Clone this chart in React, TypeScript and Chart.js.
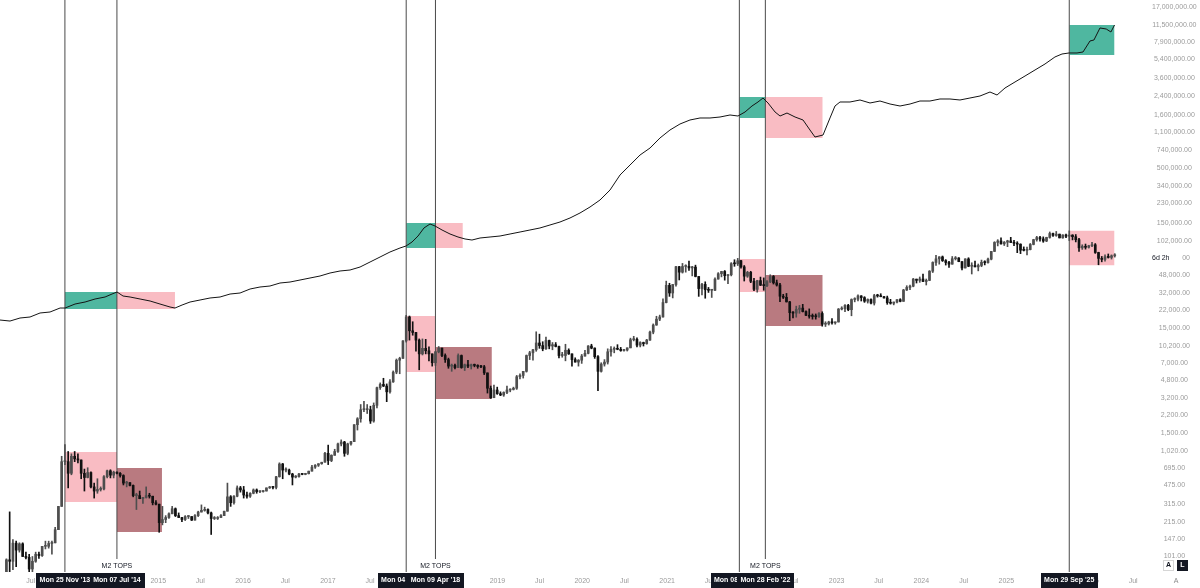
import React, { useEffect, useRef } from 'react';
import { Chart, registerables } from 'chart.js';

Chart.register(...registerables);

const FONT = '"Liberation Sans", Arial, sans-serif';

// ---------- axes ----------
const X_MIN = 2013.134;
const X_MAX = 2026.578;
const Y_MIN = 71.17;
const Y_MAX = 19930000;
const yTicks = [101, 147, 215, 315, 475, 695, 1020, 1500, 2200, 3200, 4800, 7000, 10200, 15000, 22000, 32000, 48000, 70000, 102000, 150000, 230000, 340000, 500000, 740000, 1100000, 1600000, 2400000, 3600000, 5400000, 7900000, 11500000, 17000000];
const xTickYears = [2013, 2014, 2015, 2016, 2017, 2018, 2019, 2020, 2021, 2022, 2023, 2024, 2025, 2026];

// ---------- BTC 2-week candles: [high, low, close], open = previous close ----------
const CANDLE_START = '2013-03-04';
const btcFirstOpen = 34;
const btc2013 = [[48,33,47],[95,46,93],[266,50,90],[145,75,134],[140,80,115],[135,110,132],[135,100,100],[110,95,98],[105,65,76],[100,68,90],[110,88,105],[110,96,102],[125,100,125],[140,118,125],[140,120,133],[140,105,135],[190,135,180],[300,180,300],[900,300,800],[1163,750,800],[1000,450,620],[950,600,900]];
const btc2014 = [[1000,800,850],[950,780,830],[830,550,620],[680,420,565],[700,560,630],[640,450,460],[500,360,420],[550,400,435],[460,420,440],[590,430,575],[665,560,655],[670,560,595],[650,560,635],[640,610,620],[630,570,590],[600,480,500],[520,460,505],[500,470,475],[480,370,380],[400,280,380],[420,360,355],[365,320,365],[460,360,380],[400,360,375],[375,310,325],[340,310,315]];
const btc2015 = [[300,170,210],[300,200,225],[245,210,235],[260,230,255],[300,255,285],[290,240,245],[260,235,235],[236,215,225],[245,220,240],[245,230,240],[240,220,222],[250,222,245],[270,240,265],[310,265,275],[295,270,280],[285,255,260],[265,162,230],[240,225,230],[240,225,235],[250,235,245],[270,245,270],[500,270,370],[380,300,325],[380,315,375],[470,370,450],[465,410,430]];
const btc2016 = [[465,360,385],[410,360,375],[405,365,400],[440,395,430],[440,400,415],[420,405,415],[425,410,420],[450,420,450],[465,445,460],[460,440,455],[580,440,575],[780,570,760],[770,550,665],[700,640,665],[680,600,610],[620,480,570],[590,560,575],[620,570,610],[615,600,605],[620,600,615],[650,610,650],[740,650,710],[750,690,740],[765,720,765],[790,755,790],[980,790,960]];
const btc2017 = [[1150,750,820],[930,800,920],[1050,920,1000],[1200,980,1180],[1290,1130,1230],[1250,900,960],[1200,930,1180],[1250,1150,1240],[1800,1240,1800],[2100,1600,2050],[2800,1900,2500],[3000,2400,2500],[2800,2300,2500],[2700,1850,1950],[2900,1900,2750],[4100,2600,4050],[4500,3900,4350],[4980,4150,4200],[4400,2980,3700],[4850,3600,4600],[5850,4550,5700],[7600,5500,7400],[7900,5500,7700],[11400,7700,11300],[19800,11000,19100],[19500,11500,14100]];
const btc2018 = [[17200,12800,13600],[13600,9000,11500],[11800,6000,8500],[11800,8300,9600],[11700,8500,9100],[9900,7300,8500],[8500,6500,7000],[8950,6600,8900],[9990,8700,9650],[9650,8000,8200],[8500,7050,7500],[7750,6200,6500],[6800,5800,6600],[6800,6100,6300],[8500,6300,8200],[8300,6200,6300],[6800,5900,6700],[7400,6300,6500],[6800,6100,6700],[6800,6400,6600],[6700,6200,6450],[6600,6300,6400],[6600,5400,5600],[5600,3600,4000],[4200,3200,3250],[4300,3250,3850]];
const btc2019 = [[4100,3500,3550],[3700,3400,3450],[3700,3350,3650],[4200,3550,3850],[3950,3700,3900],[4100,3850,4000],[5300,3900,5150],[5500,4900,5300],[5800,5000,5800],[8300,5700,8200],[9000,7500,8700],[9400,7400,9300],[13800,9000,10800],[13100,9600,10200],[11100,9100,9500],[12300,9400,11400],[11500,9500,10100],[10900,9300,10400],[10900,9900,10000],[10100,7800,8200],[8800,7900,8200],[10500,7300,9200],[9500,8400,8500],[8500,6500,7500],[7800,7100,7100],[7500,6500,7400]];
const btc2020 = [[8400,6900,8100],[9200,8100,8600],[10200,8500,10100],[10500,9500,9650],[9700,7700,8000],[8200,3800,5800],[7000,5700,6800],[7500,6500,7100],[9500,6800,8900],[10000,8100,9400],[9900,8700,9500],[10400,9300,9400],[9800,9000,9150],[9400,9000,9250],[9600,9050,9700],[12000,9700,11600],[12500,11300,11700],[12100,9900,10300],[11100,9900,10900],[11000,10100,10650],[11700,10500,11500],[14000,11400,13700],[16400,13200,16000],[19400,15900,18200],[19900,17600,19100],[28500,19000,26200]];
const btc2021 = [[41900,26000,38200],[40000,30000,32300],[39000,29000,38900],[58000,37500,57500],[58000,43000,51000],[61800,50000,57800],[60000,51000,58000],[64900,53000,56000],[58000,47000,57000],[59500,46000,46400],[46000,30000,35600],[40000,31000,39000],[41300,28800,34700],[36500,32700,34300],[34600,29300,34300],[45000,34000,43800],[50500,43800,49300],[52000,46000,51800],[52900,42800,47300],[48500,39600,48200],[62900,47000,61500],[67000,58000,61300],[69000,59000,65500],[66000,55600,57300],[59000,42000,46700],[52000,45500,50800]];
const btc2022 = [[52000,40500,41800],[44500,34000,35000],[42700,32900,42400],[45800,38000,38300],[45000,34300,38000],[42300,37200,41300],[48200,40500,46400],[47400,39300,40400],[42900,37600,38500],[40000,26700,30100],[31400,28600,29400],[32000,26500,26600],[26900,17600,21000],[21500,18700,20800],[24200,19000,22600],[24600,20700,23200],[25200,21300,21500],[21800,19600,19800],[22800,18600,19400],[20400,18200,19300],[20400,18200,19200],[21000,18900,20600],[21400,15600,16300],[17200,15500,16400],[17400,16000,17100],[18400,16300,16800]];
const btc2023 = [[17100,16300,17100],[23000,17100,22700],[23900,22300,22900],[25000,21400,24600],[25200,21900,22400],[28400,19600,28000],[29100,26600,28200],[31000,27200,30300],[30500,27100,29200],[29800,26300,27000],[28400,25900,28000],[28400,25400,25900],[31400,24800,30500],[31400,29500,30300],[31800,29700,29800],[30100,28900,29000],[30200,25200,26100],[28100,25300,25800],[26500,24900,26500],[28000,26000,27900],[28500,26600,26900],[35000,26900,34500],[37900,34100,36500],[38400,34800,37500],[44500,37000,43800],[43400,40200,42600]];
const btc2024 = [[45900,40800,43900],[49000,41500,41600],[43900,38500,42600],[52800,42300,52100],[64000,50600,63100],[73800,59000,68300],[71700,60800,71300],[72700,64500,65700],[67200,59600,63100],[64700,56500,60800],[71900,60700,68500],[71900,66600,69600],[70200,64100,64300],[64500,53500,55900],[68500,55900,68200],[70000,57500,58100],[62700,49000,58900],[65000,57200,57300],[61000,52500,59100],[66500,57500,63300],[65500,59800,62900],[69500,62000,67900],[80500,66800,80400],[99500,80200,97900],[104000,90700,101100],[108300,94200,94900]];
const btc2025 = [[99900,91500,98400],[102700,89200,101300],[109500,97700,97700],[102500,91200,96100],[99500,78200,94200],[95000,76600,82600],[88800,81200,82300],[88500,74500,83700],[95700,83100,93700],[104900,92800,104100],[111900,100700,109000],[112000,100400,105700],[110600,98200,101000],[109800,99600,109200],[123200,107500,119000],[120200,112000,114200],[124500,112000,117400],[117600,108000,108200],[116000,107300,115300],[117900,108700,112200],[126200,102000,115000],[116000,103500,111000],[116400,99000,104000],[107000,80500,87000],[93000,84000,90000],[94500,84500,88000],[92000,86500,91000]];
const btc2026 = [[97900,89000,93000],[95500,77000,78500],[79000,60000,69000],[72000,64000,67500],[74500,65000,71500],[76000,69500,70500],[74500,68000,73000],[76500,71000,74500]];

// ---------- M2 line (read in axis units) ----------
const m2Dates = [2013.134,2013.252,2013.370,2013.488,2013.606,2013.724,2013.842,2013.901,2014.019,2014.137,2014.255,2014.373,2014.455,2014.514,2014.585,2014.668,2014.786,2014.904,2015.021,2015.139,2015.198,2015.281,2015.375,2015.493,2015.611,2015.729,2015.847,2015.965,2016.083,2016.200,2016.318,2016.436,2016.554,2016.672,2016.790,2016.908,2017.026,2017.144,2017.262,2017.380,2017.498,2017.616,2017.733,2017.851,2017.922,2017.993,2018.064,2018.134,2018.205,2018.264,2018.347,2018.441,2018.535,2018.618,2018.700,2018.795,2018.913,2019.031,2019.149,2019.267,2019.384,2019.502,2019.620,2019.738,2019.856,2019.974,2020.092,2020.210,2020.328,2020.446,2020.564,2020.682,2020.800,2020.917,2021.035,2021.153,2021.271,2021.389,2021.507,2021.625,2021.743,2021.837,2021.920,2022.002,2022.073,2022.132,2022.191,2022.274,2022.333,2022.415,2022.510,2022.604,2022.686,2022.745,2022.840,2022.922,2022.981,2023.040,2023.158,2023.276,2023.394,2023.512,2023.630,2023.748,2023.866,2023.983,2024.101,2024.219,2024.337,2024.455,2024.573,2024.691,2024.809,2024.892,2024.986,2025.104,2025.222,2025.340,2025.458,2025.575,2025.658,2025.741,2025.835,2025.906,2025.988,2026.035,2026.106,2026.180,2026.235,2026.278];
const m2Values = [17860,17470,18670,19080,20840,21290,23240,23240,25370,26500,28320,29590,31590,33010,30240,29590,28320,27100,25370,23760,23240,24820,26500,27700,28950,29590,31590,32300,35260,36840,37650,40210,41100,42940,44870,46880,50080,52330,53480,57100,63730,71120,79370,86630,90510,98820,112700,134400,146700,140400,128600,117800,110300,105600,103200,107900,110300,112700,117800,123100,128600,134400,143500,153200,167300,186700,212900,248300,309000,429500,534800,665800,776400,966800,1152000,1314000,1435000,1499000,1499000,1532000,1601000,1566000,1710000,1950000,2129000,2324000,2083000,1710000,1566000,1672000,1532000,1435000,1152000,988100,1032000,1499000,1950000,2129000,2129000,2225000,2083000,2176000,2037000,1950000,2037000,2176000,2176000,2274000,2274000,2225000,2324000,2428000,2650000,2482000,2894000,3302000,3764000,4297000,4901000,5713000,6099000,6237000,6237000,6373000,8112000,8292000,10790000,10550000,9882000,11520000];

// ---------- markers & boxes ----------
const markerDates = ['2013-11-25', '2014-07-07', '2017-12-04', '2018-04-09', '2021-11-08', '2022-02-28', '2025-09-29'];
const markerLabels = ["Mon 25 Nov '13", "Mon 07 Jul '14", "Mon 04 Dec '17", "Mon 09 Apr '18", "Mon 08 Nov '21", "Mon 28 Feb '22", "Mon 29 Sep '25"];
const m2TopMarkers = [1, 3, 5];
const M2_TEXT = 'M2 TOPS';

const boxFrom = ['2013-11-25', '2014-07-07', '2017-12-04', '2018-04-09', '2021-11-08', '2022-02-28', '2025-09-29', '2013-11-25', '2014-07-07', '2017-12-04', '2018-04-09', '2021-11-08', '2022-02-28', '2025-09-29'];
const boxTo = ['2014-07-07', '2015-03-14', '2018-04-09', '2018-08-05', '2022-02-28', '2022-11-02', '2026-04-12', '2014-07-07', '2015-01-17', '2018-04-09', '2018-12-08', '2022-02-28', '2022-11-02', '2026-04-12'];
const boxTop = [33000, 33000, 149900, 149900, 2375000, 2375000, 11520000, 988, 696, 19500, 9880, 68100, 47900, 126500];
const boxBottom = [22700, 22700, 86600, 86600, 1499000, 966800, 5961000, 330, 171, 5710, 3160, 33000, 15660, 59500];
const boxKind = ['up', 'down', 'up', 'down', 'up', 'down', 'up', 'down', 'deep', 'down', 'deep', 'down', 'deep', 'down'];
const BOX_COLORS: Record<string, string> = { up: '#4fb7a0', down: '#f9bcc3', deep: '#b97a80' };

const UP_COLOR = '#4e4e4e';
const DOWN_COLOR = '#111111';
const TEXT_GRAY = '#9b9b9b';
const DARK = '#131722';

const DAY_MS = 86400000;
const YEAR_MS = 365.2425 * DAY_MS;
const toYear = (ms: number) => 1970 + ms / YEAR_MS;
const dateToYear = (s: string) => toYear(Date.parse(s + 'T00:00:00Z'));

function buildCandles() {
  const years = [btc2013, btc2014, btc2015, btc2016, btc2017, btc2018, btc2019, btc2020, btc2021, btc2022, btc2023, btc2024, btc2025, btc2026];
  const start = Date.parse(CANDLE_START + 'T00:00:00Z');
  const out: { x: number; o: number; h: number; l: number; c: number }[] = [];
  let prev = btcFirstOpen;
  let i = 0;
  for (const yr of years) {
    for (const [h, l, c] of yr) {
      const o = prev;
      out.push({ x: toYear(start + i * 14 * DAY_MS), o, h: Math.max(h, o, c), l: Math.min(l, o, c), c });
      prev = c;
      i++;
    }
  }
  return out;
}

const overlayPlugin = {
  id: 'tvOverlay',
  afterDraw(chart: any) {
    const { ctx, chartArea } = chart;
    const xs = chart.scales.x;
    const ys = chart.scales.y;
    const bottom = chartArea.bottom;
    ctx.save();
    ctx.textAlign = 'center';
    ctx.textBaseline = 'middle';

    // "M2 TOPS" captions
    ctx.font = `7px ${FONT}`;
    m2TopMarkers.forEach((idx) => {
      const px = xs.getPixelForValue(dateToYear(markerDates[idx]));
      const w = ctx.measureText(M2_TEXT).width;
      ctx.fillStyle = '#ffffff';
      ctx.fillRect(px - w / 2 - 2, bottom - 13, w + 4, 13);
      ctx.fillStyle = DARK;
      ctx.fillText(M2_TEXT, px, bottom - 6);
    });

    // date labels on the time axis
    ctx.font = `bold 7px ${FONT}`;
    markerDates.forEach((d, i) => {
      const px = xs.getPixelForValue(dateToYear(d));
      const t = markerLabels[i];
      const w = ctx.measureText(t).width;
      const bw = w + 7;
      ctx.fillStyle = DARK;
      ctx.fillRect(Math.round(px - bw / 2), bottom + 1, Math.round(bw), 15);
      ctx.fillStyle = '#ffffff';
      ctx.fillText(t, px, bottom + 8.5);
    });

    // countdown label on price scale
    const py = ys.getPixelForValue(70000);
    ctx.fillStyle = '#ffffff';
    ctx.fillRect(chartArea.right + 6, py - 6, 36, 12);
    ctx.fillStyle = DARK;
    ctx.textAlign = 'left';
    ctx.font = `7px ${FONT}`;
    ctx.fillText('6d 2h', chartArea.right + 12, py);

    // small scale buttons
    const bx = chartArea.right + 23;
    ctx.strokeStyle = '#d6d6d6';
    ctx.lineWidth = 1;
    ctx.fillStyle = '#ffffff';
    ctx.fillRect(bx, bottom - 12, 11, 11);
    ctx.strokeRect(bx + 0.5, bottom - 11.5, 10, 10);
    ctx.fillStyle = DARK;
    ctx.textAlign = 'center';
    ctx.font = `bold 7px ${FONT}`;
    ctx.fillText('A', bx + 5.5, bottom - 6.5);
    ctx.fillStyle = DARK;
    ctx.fillRect(bx + 14, bottom - 12, 11, 11);
    ctx.fillStyle = '#ffffff';
    ctx.fillText('L', bx + 19.5, bottom - 6.5);
    ctx.fillStyle = '#8a8a8a';
    ctx.font = `7px ${FONT}`;
    ctx.fillText('A', bx + 13, bottom + 9);
    ctx.restore();
  },
};

function buildConfig(): any {
  const candles = buildCandles();
  const datasets: any[] = [];

  // boxes (drawn at the back)
  boxFrom.forEach((f, i) => {
    const x0 = dateToYear(f);
    const x1 = dateToYear(boxTo[i]);
    datasets.push({
      type: 'line',
      data: [{ x: x0, y: boxTop[i] }, { x: x1, y: boxTop[i] }],
      fill: '+1',
      backgroundColor: BOX_COLORS[boxKind[i]],
      borderColor: 'rgba(0,0,0,0)',
      borderWidth: 0,
      pointRadius: 0,
      order: 5,
    });
    datasets.push({
      type: 'line',
      data: [{ x: x0, y: boxBottom[i] }, { x: x1, y: boxBottom[i] }],
      fill: false,
      borderColor: 'rgba(0,0,0,0)',
      borderWidth: 0,
      pointRadius: 0,
      order: 5,
    });
  });

  // vertical marker lines
  markerDates.forEach((d) => {
    const x = dateToYear(d);
    datasets.push({
      type: 'line',
      data: [{ x, y: Y_MIN }, { x, y: Y_MAX }],
      borderColor: '#4a4a4a',
      borderWidth: 1,
      pointRadius: 0,
      fill: false,
      order: 4,
    });
  });

  // candle wicks
  datasets.push({
    type: 'bar',
    data: candles.map((k) => ({ x: k.x, y: [k.l, k.h] })),
    backgroundColor: candles.map((k) => (k.c >= k.o ? UP_COLOR : DOWN_COLOR)),
    borderWidth: 0,
    barThickness: 1,
    grouped: false,
    order: 3,
  });
  // candle bodies
  datasets.push({
    type: 'bar',
    data: candles.map((k) => ({ x: k.x, y: [k.o, k.c] })),
    backgroundColor: candles.map((k) => (k.c >= k.o ? UP_COLOR : DOWN_COLOR)),
    borderWidth: 0,
    barThickness: 2,
    minBarLength: 1,
    grouped: false,
    order: 2,
  });

  // M2 line
  datasets.push({
    type: 'line',
    data: m2Dates.map((x, i) => ({ x, y: m2Values[i] })),
    borderColor: '#141414',
    borderWidth: 1,
    pointRadius: 0,
    tension: 0,
    fill: false,
    order: 1,
  });

  const xTickValues: number[] = [];
  xTickYears.forEach((y) => {
    xTickValues.push(toYear(Date.UTC(y, 0, 1)));
    xTickValues.push(toYear(Date.UTC(y, 6, 1)));
  });

  return {
    type: 'bar',
    data: { datasets },
    options: {
      responsive: false,
      devicePixelRatio: 1,
      animation: false,
      events: [],
      layout: { padding: 0 },
      plugins: {
        legend: { display: false },
        tooltip: { enabled: false },
      },
      scales: {
        x: {
          type: 'linear',
          position: 'bottom',
          min: X_MIN,
          max: X_MAX,
          offset: false,
          grid: { display: false, drawTicks: false },
          border: { display: false },
          ticks: {
            autoSkip: false,
            maxRotation: 0,
            padding: 5,
            color: TEXT_GRAY,
            font: { size: 7, family: FONT },
            callback: (v: number) => {
              const yr = Math.floor(v + 0.01);
              return v - yr < 0.1 ? String(yr) : 'Jul';
            },
          },
          afterBuildTicks: (scale: any) => {
            scale.ticks = xTickValues.filter((v) => v >= X_MIN && v <= X_MAX).map((v) => ({ value: v }));
          },
          afterFit: (scale: any) => {
            scale.height = 16;
            scale.paddingLeft = 0;
            scale.paddingRight = 0;
          },
        },
        y: {
          type: 'logarithmic',
          position: 'right',
          min: Y_MIN,
          max: Y_MAX,
          grid: { display: false, drawTicks: false },
          border: { display: false },
          ticks: {
            autoSkip: false,
            padding: 12,
            crossAlign: 'center',
            color: TEXT_GRAY,
            font: { size: 7, family: FONT },
            callback: (v: number) =>
              Number(v).toLocaleString('en-US', { minimumFractionDigits: 2, maximumFractionDigits: 2 }),
          },
          afterBuildTicks: (scale: any) => {
            scale.ticks = yTicks.map((v) => ({ value: v }));
          },
          afterFit: (scale: any) => {
            scale.width = 60;
            scale.paddingTop = 0;
            scale.paddingBottom = 0;
          },
        },
      },
    },
    plugins: [overlayPlugin],
  };
}

export default function App() {
  const ref = useRef<HTMLCanvasElement>(null);
  useEffect(() => {
    document.body.style.margin = '0';
    Chart.defaults.font.family = FONT;
    const chart = new Chart(ref.current as HTMLCanvasElement, buildConfig());
    return () => chart.destroy();
  }, []);
  return (
    <div style={{ position: 'absolute', left: 0, top: 0, width: 1200, height: 588, background: '#ffffff' }}>
      <canvas ref={ref} width={1200} height={588} style={{ display: 'block', width: 1200, height: 588 }} />
    </div>
  );
}
